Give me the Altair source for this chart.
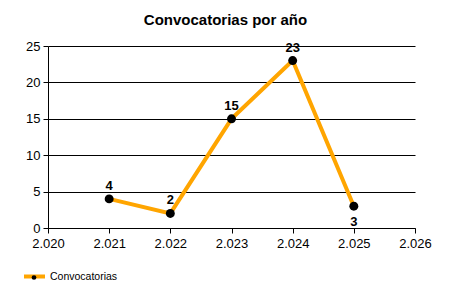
import altair as alt
import pandas as pd

years = [2021, 2022, 2023, 2024, 2025]
counts = [4, 2, 15, 23, 3]
x_ticks = [2020, 2021, 2022, 2023, 2024, 2025, 2026]
y_ticks = [0, 5, 10, 15, 20, 25]
series = "Convocatorias"
title = "Convocatorias por año"

df = pd.DataFrame({"anio": years, "valor": counts, "serie": [series] * len(years)})

FONT = "Liberation Sans"
ORANGE = "#FFA500"

x = alt.X(
    "anio:Q",
    scale=alt.Scale(domain=[2020, 2026], nice=False, zero=False),
    axis=alt.Axis(
        values=x_ticks, labelExpr="format(datum.value/1000, '.3f')", title=None,
        grid=False, domainColor="black", tickColor="black", tickSize=5,
        labelFont=FONT, labelFontSize=13, labelColor="black", labelPadding=4,
        labelFlush=False, labelOverlap=False,
    ),
)
y = alt.Y(
    "valor:Q",
    scale=alt.Scale(domain=[0, 25], nice=False),
    axis=alt.Axis(
        values=y_ticks, title=None, grid=True, gridColor="black", gridOpacity=1,
        gridWidth=1, domainColor="black", tickColor="black", tickSize=5,
        labelFont=FONT, labelFontSize=13, labelColor="black", labelPadding=3,
        labelFlush=False, labelOverlap=False,
    ),
)

base = alt.Chart(df).encode(x=x, y=y)

line = base.mark_line(strokeWidth=4).encode(
    stroke=alt.Stroke(
        "serie:N",
        scale=alt.Scale(domain=[series], range=[ORANGE]),
        legend=alt.Legend(
            orient="none", legendX=-26, legendY=218, title=None,
            symbolType="stroke", symbolStrokeWidth=4, symbolSize=441,
            labelFont=FONT, labelFontSize=10.5, labelColor="black",
            labelOffset=3, padding=0,
        ),
    )
)

points = base.transform_calculate(pt="'pt'").mark_point(filled=True, size=80, opacity=1).encode(
    fill=alt.Fill(
        "pt:N",
        scale=alt.Scale(range=["black"]),
        legend=alt.Legend(
            orient="none", legendX=-19, legendY=226.5, title=None,
            symbolType="circle", symbolSize=22, symbolStrokeWidth=0,
            symbolOpacity=1, labelExpr="''", padding=0,
        ),
    )
)

labels_above = base.transform_filter("datum.anio != 2025").mark_text(
    font=FONT, fontSize=13, fontWeight="bold", color="black", dy=-13
).encode(text="valor:Q")

labels_below = base.transform_filter("datum.anio == 2025").mark_text(
    font=FONT, fontSize=13, fontWeight="bold", color="black", dy=16
).encode(text="valor:Q")

chart = (
    alt.layer(line, points, labels_above, labels_below)
    .properties(
        width=367, height=182,
        autosize=alt.AutoSizeParams(type="none"),
        padding={"left": 48, "top": 46, "right": 35, "bottom": 72},
        title=alt.TitleParams(
            title, font=FONT, fontSize=15, fontWeight="bold", color="black",
            anchor="middle", dx=-6, offset=12,
        ),
        background="white",
    )
    .configure_view(stroke=None)
)

chart.save("out.html", embed_options={"renderer": "svg", "actions": False})
